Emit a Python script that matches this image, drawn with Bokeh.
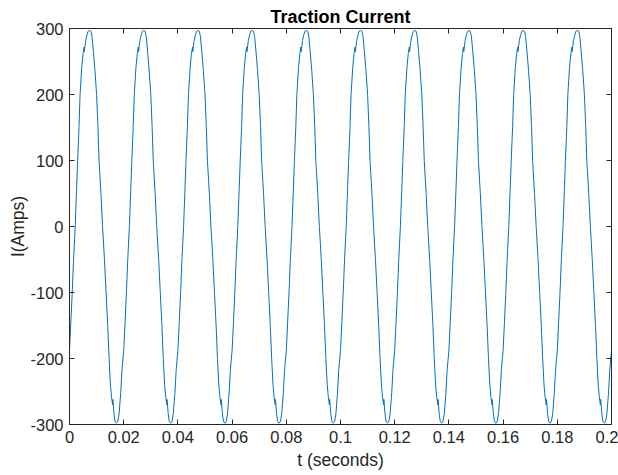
from bokeh.plotting import figure
from bokeh.models import LinearAxis, FixedTicker, Range1d, ColumnDataSource
from bokeh.embed import file_html
from bokeh.resources import INLINE

# ---- data (one supply period repeats 10 times) ----
period_s = 0.02
n_periods = 10
cycle_t_ms = [0.0, 0.5, 1.0, 1.5, 2.1, 2.6, 3.0, 3.5, 3.9, 4.5, 5.0, 5.4, 5.5, 5.6,
              6.0, 6.5, 6.9, 7.4, 7.9, 8.3, 8.8, 9.4, 10.0, 10.5, 10.9, 11.6,
              12.2, 12.9, 13.5, 14.1, 14.6, 15.1, 15.5, 15.9, 16.0, 16.1, 16.4,
              16.8, 17.3, 17.8, 18.3, 18.9, 19.4]
cycle_i = [-188, -145, -100, -50, 0, 55, 100, 150, 200, 240, 262, 272, 265, 269,
           282, 291, 296, 297, 296, 288, 266, 236, 200, 150, 100, 50,
           0, -50, -100, -150, -200, -240, -258, -270, -262, -267, -283,
           -295, -298, -296, -284, -252, -215]

x_ticks = [0, 0.02, 0.04, 0.06, 0.08, 0.1, 0.12, 0.14, 0.16, 0.18, 0.2]
x_tick_labels = ["0", "0.02", "0.04", "0.06", "0.08", "0.1", "0.12", "0.14",
                 "0.16", "0.18", "0.2"]
y_ticks = [-300, -200, -100, 0, 100, 200, 300]
y_tick_labels = ["-300", "-200", "-100", "0", "100", "200", "300"]

t_vals, i_vals = [], []
for k in range(n_periods):
    for tm, iv in zip(cycle_t_ms, cycle_i):
        t_vals.append(k * period_s + tm / 1000.0)
        i_vals.append(iv)
t_vals.append(n_periods * period_s)
i_vals.append(cycle_i[0])
src = ColumnDataSource(dict(t=t_vals, i=i_vals))

FONT = "Liberation Sans"
AX = "#262626"

p = figure(width=618, height=472, x_range=Range1d(0, 0.2), y_range=Range1d(-300, 300),
           output_backend="svg", toolbar_location=None, title="Traction Current")
p.min_border_left = 69
p.min_border_right = 7
p.min_border_top = 28
p.min_border_bottom = 45
p.background_fill_color = "white"
p.border_fill_color = "white"
p.outline_line_color = AX
p.outline_line_width = 1
p.xgrid.visible = False
p.ygrid.visible = False

p.title.align = "center"
p.title.text_font = FONT
p.title.text_font_style = "bold"
p.title.text_font_size = "18px"
p.title.text_color = "black"
p.title.standoff = 3

p.line("t", "i", source=src, line_color="#0072BD", line_width=1)

def style(ax, ticks, labels, show_labels=True):
    ax.ticker = FixedTicker(ticks=ticks)
    ax.major_label_overrides = {t: l for t, l in zip(ticks, labels)}
    ax.major_tick_in = 5
    ax.major_tick_out = 0
    ax.minor_tick_line_color = None
    ax.axis_line_color = AX
    ax.major_tick_line_color = AX
    ax.major_label_text_font = FONT
    ax.major_label_text_color = AX
    if show_labels:
        ax.major_label_text_font_size = "16.5px"
        ax.major_label_standoff = 6
    else:
        ax.major_label_text_font_size = "0px"
        ax.major_label_standoff = 0

style(p.xaxis[0], x_ticks, x_tick_labels)
style(p.yaxis[0], y_ticks, y_tick_labels)
p.xaxis[0].axis_label = "t (seconds)"
p.yaxis[0].axis_label = "I(Amps)"
for ax in (p.xaxis[0], p.yaxis[0]):
    ax.axis_label_text_font = FONT
    ax.axis_label_text_font_style = "normal"
    ax.axis_label_text_font_size = "17.5px"
    ax.axis_label_text_color = AX
p.xaxis[0].axis_label_standoff = 4
p.yaxis[0].axis_label_standoff = -1

top_ax = LinearAxis()
style(top_ax, x_ticks, [""] * len(x_ticks), show_labels=False)
p.add_layout(top_ax, "above")
right_ax = LinearAxis()
style(right_ax, y_ticks, [""] * len(y_ticks), show_labels=False)
p.add_layout(right_ax, "right")

open("out.html", "w").write(file_html(p, INLINE))
